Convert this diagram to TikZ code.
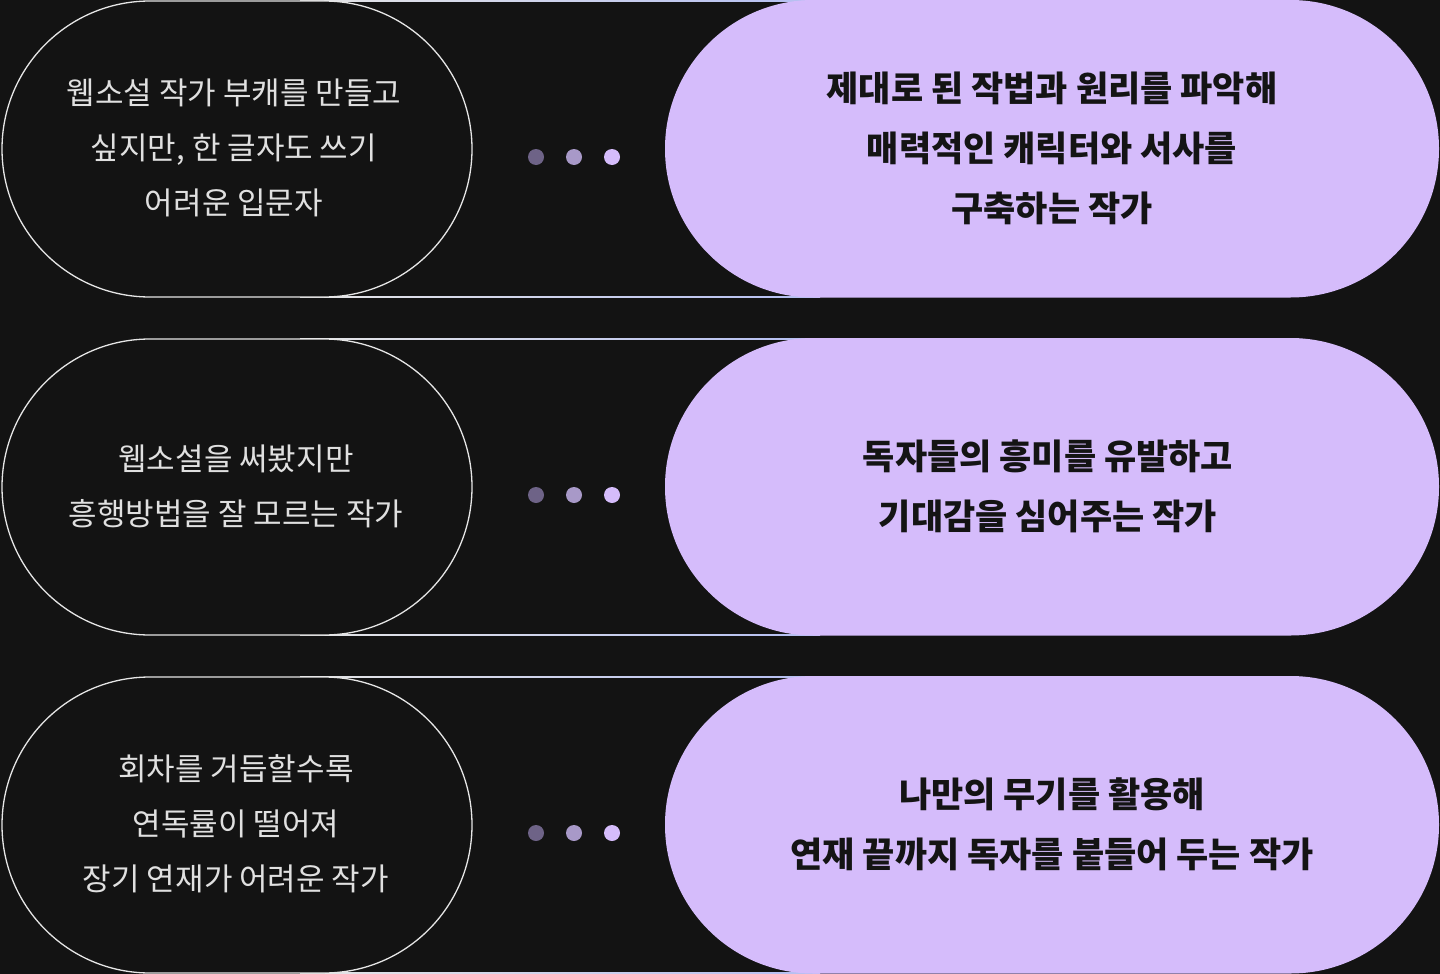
\documentclass[tikz,border=0pt]{standalone}
\usepackage{fontspec}
\newfontfamily\kr{Noto Sans CJK KR}
\definecolor{bg}{HTML}{131313}
\definecolor{lav}{HTML}{D5BCFB}
\definecolor{edge}{HTML}{E6E6E6}
\definecolor{lineR}{HTML}{B4BEF2}
\definecolor{dA}{HTML}{6E6387}
\definecolor{dB}{HTML}{A899C8}
\begin{document}
\begin{tikzpicture}[x=1pt,y=-1pt,
  lefttxt/.style={text=white!88!black,font=\kr\fontsize{31}{55}\selectfont,align=center},
  righttxt/.style={text=black!92,font=\kr\bfseries\fontsize{35}{60}\selectfont,align=center}]
\fill[bg] (0,0) rectangle (1440,974);
\foreach \y/\n in {0/a,338/b,676/c}{
  \shade[left color=edge,right color=lineR] ({300},{\y+0.3}) rectangle ({820},{\y+1.7});
  \shade[left color=edge,right color=lineR] ({300},{\y+296.3}) rectangle ({820},{\y+297.7});
  \draw[edge,line width=1.3pt,fill=bg,rounded corners=148] ({2},{\y+1}) rectangle ({472},{\y+297});
  \fill[lav,rounded corners=148.5] ({665},{\y}) rectangle ({1439},{\y+297.5});
  \fill[dA] ({536},{\y+157}) circle (8);
  \fill[dB] ({574},{\y+157}) circle (8);
  \fill[lav] ({612},{\y+157}) circle (8);
}
\node[lefttxt] (l1) at (234,148) {웹소설 작가 부캐를 만들고\\싶지만, 한 글자도 쓰기\\어려운 입문자};
\node[lefttxt] (l2) at (236,486) {웹소설을 써봤지만\\흥행방법을 잘 모르는 작가};
\node[lefttxt] (l3) at (236,824) {회차를 거듭할수록\\연독률이 떨어져\\장기 연재가 어려운 작가};
\node[righttxt] (r1) at (1052,148) {제대로 된 작법과 원리를 파악해\\매력적인 캐릭터와 서사를\\구축하는 작가};
\node[righttxt] (r2) at (1048,486) {독자들의 흥미를 유발하고\\기대감을 심어주는 작가};
\node[righttxt] (r3) at (1052,824) {나만의 무기를 활용해\\연재 끝까지 독자를 붙들어 두는 작가};
\end{tikzpicture}
\end{document}
